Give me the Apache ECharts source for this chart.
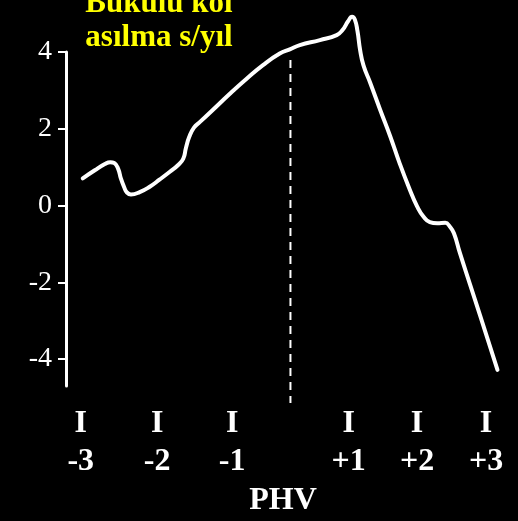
<!DOCTYPE html>
<html>
<head>
<meta charset="utf-8">
<script src="https://cdn.jsdelivr.net/npm/echarts@6/dist/echarts.min.js"></script>
<style>
html,body{margin:0;padding:0;background:#000;}
#c{width:518px;height:521px;}
</style>
</head>
<body>
<div id="c"></div>
<script>
// Years relative to PHV (x) and yearly change in bent-arm hang, s/year (y)
var curveX = [-3.10,-2.92,-2.77,-2.69,-2.63,-2.57,-2.53,-2.48,-2.44,-2.38,-2.25,-2.10,-1.95,-1.80,-1.68,-1.60,-1.56,-1.51,-1.44,-1.35,-1.16,-0.90,-0.65,-0.41,-0.16,-0.01,0.14,0.44,0.69,0.78,0.86,0.92,0.96,1.00,1.04,1.09,1.19,1.34,1.49,1.63,1.78,1.89,1.99,2.08,2.19,2.31,2.38,2.44,2.53,2.68,2.83,3.09];
var curveY = [0.71,0.92,1.08,1.13,1.11,0.95,0.70,0.47,0.34,0.29,0.35,0.49,0.68,0.88,1.05,1.22,1.50,1.79,2.03,2.18,2.49,2.92,3.31,3.66,3.96,4.07,4.18,4.31,4.44,4.58,4.80,4.92,4.85,4.55,4.05,3.65,3.20,2.49,1.80,1.10,0.42,-0.02,-0.30,-0.43,-0.46,-0.45,-0.55,-0.72,-1.24,-2.05,-2.86,-4.28];
var phvX = [0, 0];
var phvY = [3.79, -5.14];
var yTicks = [-4, -2, 0, 2, 4];
var xTickPos = [-3.13, -1.99, -0.87, 0.87, 1.89, 2.92];
var xTickText = ['-3', '-2', '-1', '+1', '+2', '+3'];
var titleLines = ['Bükülü kol', 'asılma s/yıl'];
var xName = 'PHV';

var serif = '"Liberation Serif","Times New Roman",serif';
var chart = echarts.init(document.getElementById('c'));

function zip(a, b) { return a.map(function (v, i) { return [v, b[i]]; }); }

chart.setOption({
  backgroundColor: '#000',
  animation: false,
  grid: { left: 66, right: 6.45, top: 52, bottom: 135 },
  xAxis: {
    type: 'value', min: -3.35, max: 3.3,
    axisLine: { show: false }, axisTick: { show: false }, splitLine: { show: false },
    axisLabel: {
      customValues: xTickPos,
      margin: 19,
      formatter: function (v) {
        var best = 0;
        for (var i = 1; i < xTickPos.length; i++) {
          if (Math.abs(xTickPos[i] - v) < Math.abs(xTickPos[best] - v)) best = i;
        }
        return '{i|I}\n{n|' + xTickText[best] + '}';
      },
      rich: {
        i: { color: '#fff', fontFamily: serif, fontWeight: 'bold', fontSize: 32, lineHeight: 38, align: 'center' },
        n: { color: '#fff', fontFamily: serif, fontWeight: 'bold', fontSize: 32, lineHeight: 38, align: 'center' }
      }
    }
  },
  yAxis: {
    type: 'value', min: -4.7, max: 4,
    splitLine: { show: false },
    axisLine: { show: true, onZero: false, lineStyle: { color: '#fff', width: 3 } },
    axisTick: { show: true, customValues: yTicks, length: 8, lineStyle: { color: '#fff', width: 2 } },
    axisLabel: { customValues: yTicks, color: '#fff', fontFamily: serif, fontSize: 28, margin: 14 }
  },
  graphic: [
    { type: 'text', x: 159, y: 4, style: { text: titleLines[0], fill: '#ffff00', font: 'bold 31px ' + serif, align: 'center', verticalAlign: 'middle' } },
    { type: 'text', x: 159, y: 38, style: { text: titleLines[1], fill: '#ffff00', font: 'bold 31px ' + serif, align: 'center', verticalAlign: 'middle' } },
    { type: 'text', x: 283, y: 501, style: { text: xName, fill: '#fff', font: 'bold 32px ' + serif, align: 'center', verticalAlign: 'middle' } }
  ],
  series: [
    {
      type: 'line', data: zip(phvX, phvY), clip: false, symbol: 'none',
      lineStyle: { color: '#fff', width: 2, type: [8, 6] }
    },
    {
      type: 'line', data: zip(curveX, curveY), clip: false, symbol: 'none', smooth: 0.5,
      lineStyle: { color: '#fff', width: 4, join: 'round', cap: 'round' }
    }
  ]
});
</script>
</body>
</html>
